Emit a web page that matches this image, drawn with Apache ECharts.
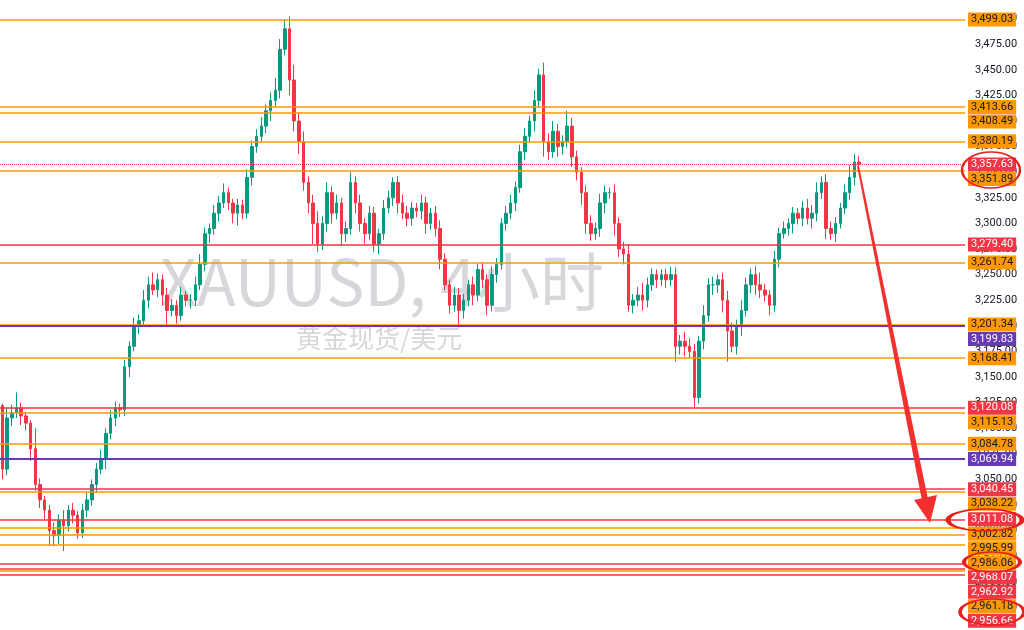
<!DOCTYPE html>
<html><head><meta charset="utf-8">
<script src="https://cdn.jsdelivr.net/npm/echarts@6/dist/echarts.min.js"></script>
<style>html,body{margin:0;padding:0;background:#fff;overflow:hidden}#c{width:1024px;height:640px;margin-top:-7px}</style>
</head><body><div id="c"></div>
<script>
const closes=[3060,3110,3115,3120,3112,3105,3080,3045,3030,3020,
3000,2995,3010,3005,3020,3015,2998,3020,3030,3045,
3060,3070,3095,3110,3120,3118,3160,3180,3200,3205,
3225,3240,3235,3245,3230,3215,3220,3210,3230,3225,
3225,3240,3260,3290,3295,3310,3320,3330,3320,3310,
3318,3310,3345,3375,3385,3395,3410,3420,3430,3470,
3490,3440,3400,3380,3340,3320,3300,3280,3300,3330,
3310,3320,3290,3295,3340,3320,3300,3290,3310,3280,
3290,3315,3325,3340,3320,3310,3305,3315,3312,3320,
3300,3310,3295,3265,3240,3220,3230,3215,3225,3240,
3230,3255,3245,3220,3250,3260,3300,3310,3320,3335,
3370,3385,3400,3420,3445,3380,3370,3390,3375,3380,
3395,3365,3350,3330,3300,3290,3295,3320,3330,3330,
3300,3275,3270,3220,3225,3230,3225,3240,3250,3245,
3250,3245,3250,3180,3185,3180,3175,3130,3185,3210,
3240,3240,3245,3225,3195,3180,3200,3215,3240,3250,
3240,3235,3230,3220,3265,3290,3295,3300,3310,3305,
3315,3305,3310,3330,3340,3295,3290,3300,3315,3330,
3345,3360,3357.63];
const firstOpen=3122;
const upWick=[2,10,8,15,5,4,3,20,6,4,
5,8,6,10,5,7,4,6,8,5,
6,9,5,8,6,4,7,5,8,6,
10,8,12,6,5,7,6,5,8,4,
6,8,10,6,5,8,7,9,5,4,
6,5,8,6,7,9,6,8,12,10,
9,12,15,8,10,6,8,12,7,10,
6,8,5,7,10,6,8,5,7,6,
5,8,7,5,6,8,7,6,5,8,
6,5,7,8,6,5,8,7,6,5,
8,6,7,5,8,6,5,7,8,6,
7,8,5,10,6,12,8,10,7,6,
15,8,6,5,7,8,6,9,7,5,
8,6,7,10,6,8,12,7,6,5,
5,6,8,7,6,9,8,7,5,10,
6,8,5,7,9,8,6,10,7,6,
8,12,6,5,8,6,7,5,6,5,
7,9,8,10,6,8,7,6,5,8,
12,8,6];
const loWick=[10,6,8,5,9,7,12,6,8,10,
15,10,8,25,6,8,6,5,7,6,
8,5,10,6,8,7,6,10,5,8,
6,8,5,7,10,15,6,8,5,6,
8,6,5,7,9,6,8,5,7,10,
12,6,5,8,6,5,7,10,6,8,
6,15,10,12,8,10,20,8,6,8,
10,6,12,8,6,10,8,10,6,8,
10,6,5,8,10,6,8,7,6,8,
10,6,8,10,5,8,6,15,8,6,
10,6,8,10,6,8,5,7,6,8,
5,8,6,10,7,15,8,6,10,8,
6,10,8,12,10,7,6,8,10,6,
12,8,10,6,8,6,10,7,6,8,
6,8,6,15,8,10,6,10,6,8,
6,10,8,12,30,6,8,10,6,8,
10,8,6,10,6,8,5,7,10,6,
8,6,10,8,6,10,6,8,5,6,
7,8,5];
const orangeLevels=[3499.03,3413.66,3408.49,3380.19,3351.89,3261.74,3201.34,3168.41,3115.13,3084.78,3038.22,3002.82,2995.99,2986.06,2961.18];
const redLevels=[3279.40,3120.08,3040.45,3011.08,2968.07,2962.92,2956.66];
const purpleLevels=[3199.83,3069.94];
const currentPrice=3357.63;
const totalSlots=205;
const yMin=2900,yMax=3525;
const S=7; // canvas shift (div starts 7px above the viewport)

const cats=[],ohlc=[];
for(let i=0;i<totalSlots;i++){cats.push(i);
 if(i<closes.length){const o=i===0?firstOpen:closes[i-1],c=closes[i];
  ohlc.push([o,c,Math.min(o,c)-loWick[i],Math.max(o,c)+upWick[i]]);}
 else ohlc.push('-');}
const fmt=v=>v.toLocaleString('en-US',{minimumFractionDigits:2,maximumFractionDigits:2});
const plotH=640;
const py=v=>(yMax-v)/(yMax-yMin)*plotH;
const all=[];
orangeLevels.forEach(v=>all.push({v,col:'#ff9800',txt:'#131722'}));
redLevels.forEach(v=>all.push({v,col:'#f23645',txt:'#fff'}));
purpleLevels.forEach(v=>all.push({v,col:'#673ab7',txt:'#fff',w:2}));
all.push({v:currentPrice,col:'#f23645',txt:'#fff',type:'dotted',w:1});
all.sort((a,b)=>b.v-a.v);
let prev=-100;
const lines=all.map(o=>{const t=py(o.v);const y=Math.max(t,prev+14.5);prev=y;
 return {yAxis:o.v,lineStyle:{color:o.col,width:o.w||1.5,type:o.type||'solid'},
 label:{show:true,position:'end',distance:3,offset:[0,y-t],formatter:fmt(o.v),color:o.txt,backgroundColor:o.col,padding:[2,3,1,3],fontSize:11,fontFamily:'Roboto'}};});

const chart=echarts.init(document.getElementById('c'));
const ell=(cx,cy,rx,ry)=>({type:'circle',x:cx,y:cy+S,scaleX:rx/10,scaleY:ry/10,shape:{cx:0,cy:0,r:10},style:{fill:'none',stroke:'#e8201a',lineWidth:1.5/Math.min(rx/10,ry/10)},z:100});
const sh=pts=>pts.map(p=>[p[0],p[1]+S]);
chart.setOption({
 animation:false,backgroundColor:'#fff',
 grid:{left:0,right:59,top:0,bottom:0},
 xAxis:{type:'category',data:cats,show:false,boundaryGap:true},
 yAxis:{type:'value',position:'right',min:yMin,max:yMax,interval:25,
  splitLine:{show:false},axisLine:{show:false},axisTick:{show:false},
  axisLabel:{showMinLabel:false,showMaxLabel:false,color:'#131722',fontSize:11,fontFamily:'Roboto',margin:10,formatter:v=>fmt(v)}},
 graphic:[
  {type:'text',left:160,top:250+S,z:0,style:{text:'XAUUSD, 4小时',font:'64px "Noto Sans CJK SC", Roboto',fill:'rgba(120,123,134,0.3)'}},
  {type:'text',left:296,top:325+S,z:0,style:{text:'黄金现货/美元',font:'26px "Noto Sans CJK SC"',fill:'rgba(120,123,134,0.3)'}},
  {type:'polygon',shape:{points:sh([[857,166],[859,166],[929,504],[923,506]])},style:{fill:'#f23030'},z:100},
  {type:'polygon',shape:{points:sh([[914,500],[937,495],[930,523]])},style:{fill:'#f23030'},z:100},
  ell(991,170,29,18),ell(985,520,37,11),ell(992,562,28,10),ell(992,612,32,13)
 ],
 series:[{type:'candlestick',data:ohlc,barWidth:3,
  itemStyle:{color:'#089981',color0:'#f23645',borderColor:'#089981',borderColor0:'#f23645',borderWidth:1},
  markLine:{symbol:'none',silent:true,data:lines,animation:false}}]
});
</script></body></html>
